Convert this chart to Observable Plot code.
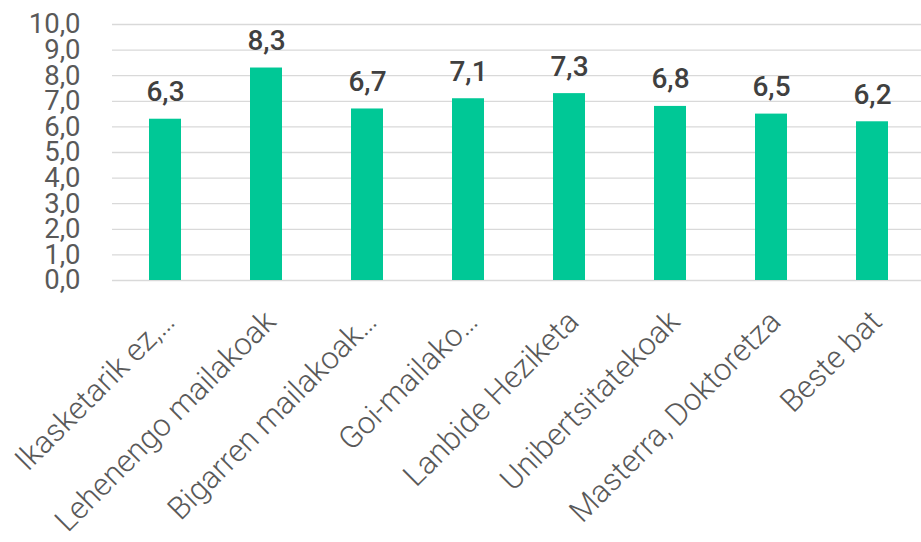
<!DOCTYPE html>
<html><head><meta charset="utf-8">
<script src="https://cdn.jsdelivr.net/npm/d3@7"></script>
<script src="https://cdn.jsdelivr.net/npm/@observablehq/plot@0.6"></script>
<style>body{margin:0;background:#fff;overflow:hidden}</style>
</head><body><div id="chart"></div>
<script>
const categories = ["Ikasketarik ez,…", "Lehenengo mailakoak", "Bigarren mailakoak…", "Goi-mailako…", "Lanbide Heziketa", "Unibertsitatekoak", "Masterra, Doktoretza", "Beste bat"];
const values = [6.3, 8.3, 6.7, 7.1, 7.3, 6.8, 6.5, 6.2];
const yTicks = [0, 1, 2, 3, 4, 5, 6, 7, 8, 9, 10];

const data = categories.map((c, i) => ({category: c, value: values[i]}));
const fmt = v => d3.format(".1f")(v).replace(".", ",");

const chart = Plot.plot({
  width: 921, height: 542,
  marginLeft: 112, marginRight: 0, marginTop: 24, marginBottom: 262,
  style: {fontFamily: "Roboto", background: "#fff", overflow: "visible"},
  x: {domain: categories, range: [112, 925], paddingInner: 0.685, paddingOuter: 0.3425, axis: null},
  y: {domain: [0, 10], axis: null},
  marks: [
    Plot.ruleY(yTicks, {stroke: "#d9d9d9", strokeWidth: 1.3}),
    Plot.text(yTicks, {y: d => d, text: d => fmt(d), frameAnchor: "left", dx: -32, textAnchor: "end", fill: "#595959", fontSize: 27.5}),
    Plot.barY(data, {x: "category", y: "value", fill: "#00C896"}),
    Plot.text(data, {x: "category", y: "value", text: d => fmt(d.value), lineAnchor: "bottom", dy: -18, fontSize: 28, fontWeight: 500, fill: "#404040"}),
    Plot.text(categories, {x: d => d, text: d => d, frameAnchor: "bottom", dy: 36, dx: 4, rotate: -45, textAnchor: "end", lineAnchor: "middle", fontSize: 31, fontWeight: 300, fill: "#595959", style: "letter-spacing:1.2px"})
  ]
});
chart.querySelectorAll("text").forEach(t => {
  if (t.getAttribute("font-weight") === "300") t.style.letterSpacing = "1.2px";
});
document.getElementById("chart").appendChild(chart);
</script>
</body></html>
